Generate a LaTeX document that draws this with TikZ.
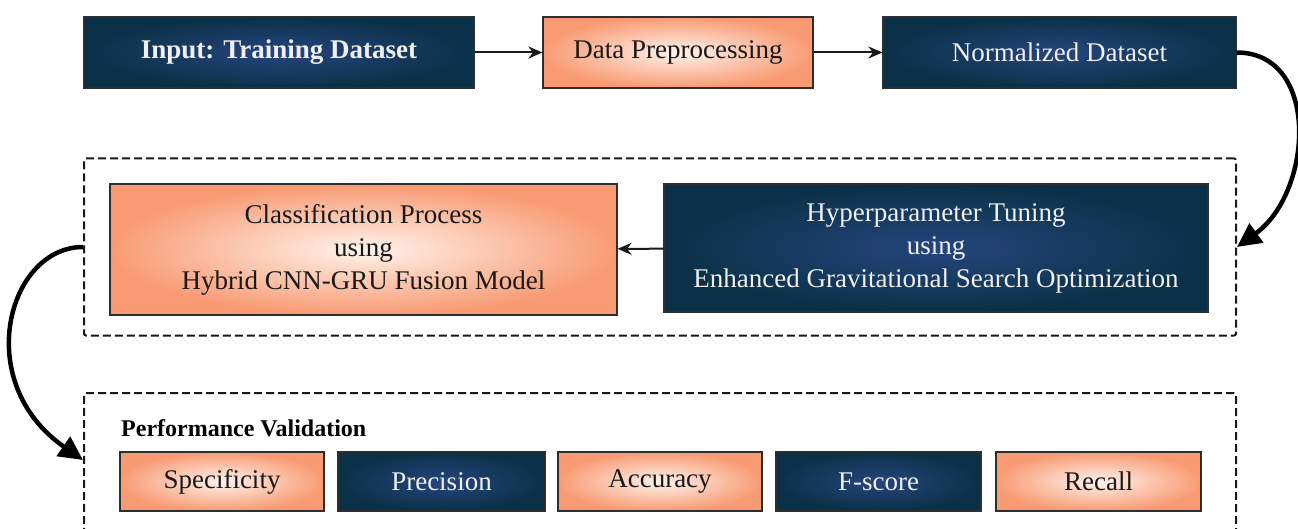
\documentclass[tikz,border=0pt]{standalone}
\usepackage{fontspec}
\setmainfont{Liberation Serif}
\usetikzlibrary{arrows.meta}
\definecolor{navyout}{HTML}{0A3147}
\definecolor{navyin}{HTML}{26457E}
\definecolor{orout}{HTML}{F89B74}
\definecolor{orin}{HTML}{FFF3EC}
\definecolor{linegray}{HTML}{2E2E2E}
\begin{document}
\begin{tikzpicture}[x=1pt,y=-1pt,
  basebox/.style={draw=linegray, line width=1.2pt, align=center, inner sep=0pt,
    font=\fontsize{27}{33}\selectfont},
  darkbox/.style={basebox, inner color=navyin, outer color=navyout, text=white!94!black},
  lightbox/.style={basebox, inner color=orin, outer color=orout, text=black!90},
  dashbox/.style={draw=black!90, line width=2pt, dash pattern=on 8pt off 4pt, rounded corners=2pt, inner sep=0pt},
  thinarrow/.style={draw=black!90, line width=2pt, -{Stealth[length=14pt,width=12pt]}},
  bigarrow/.style={draw=black, line width=4.5pt, -{Triangle[length=24pt,width=23pt]}}]
\useasboundingbox[fill=white] (0,0) rectangle (1298,529);
% top row
\node[darkbox, minimum width=390pt, minimum height=71pt, font=\bfseries\fontsize{27}{33}\selectfont] (input) at (279,52.5) {Input: Training Dataset};
\node[lightbox, minimum width=270pt, minimum height=71pt] (prep) at (678,52.5) {Data Preprocessing};
\node[darkbox, minimum width=353pt, minimum height=71pt] (norm) at (1059.5,52.5) {Normalized Dataset};
% middle group
\node[dashbox, minimum width=1152pt, minimum height=177pt] (box1) at (660,247) {};
\node[lightbox, minimum width=507pt, minimum height=131pt] (cls) at (363.5,249.5) {Classification Process\\using\\Hybrid CNN-GRU Fusion Model};
\node[darkbox, minimum width=544pt, minimum height=128pt] (hyp) at (936,248) {Hyperparameter Tuning\\using\\Enhanced Gravitational Search Optimization};
% bottom group
\node[dashbox, minimum width=1152pt, minimum height=152pt] (box2) at (660,469) {};
\coordinate (e2) at ([yshift=9pt]box2.west);
\node[anchor=west, inner sep=0pt, font=\bfseries\fontsize{24}{28}\selectfont] (perf) at (121,428) {Performance Validation};
\node[lightbox, minimum width=204pt, minimum height=59pt] (spec) at (222,481.5) {Specificity};
\node[darkbox, minimum width=207pt, minimum height=59pt] (prec) at (441.5,481.5) {Precision};
\node[lightbox, minimum width=204pt, minimum height=59pt] (acc) at (660,481.5) {Accuracy};
\node[darkbox, minimum width=205pt, minimum height=59pt] (fs) at (878.5,481.5) {F-score};
\node[lightbox, minimum width=205pt, minimum height=59pt] (rec) at (1098.5,481.5) {Recall};
% connectors
\draw[thinarrow] (input) -- (prep);
\draw[thinarrow] (prep) -- (norm);
\draw[thinarrow] (hyp) -- (cls);
\draw[bigarrow] (norm.east) .. controls +(84,0) and +(76,-55) .. (box1.east);
\draw[bigarrow] (box1.west) .. controls +(-75,0) and +(-112,-78) .. (e2);
\end{tikzpicture}
\end{document}
